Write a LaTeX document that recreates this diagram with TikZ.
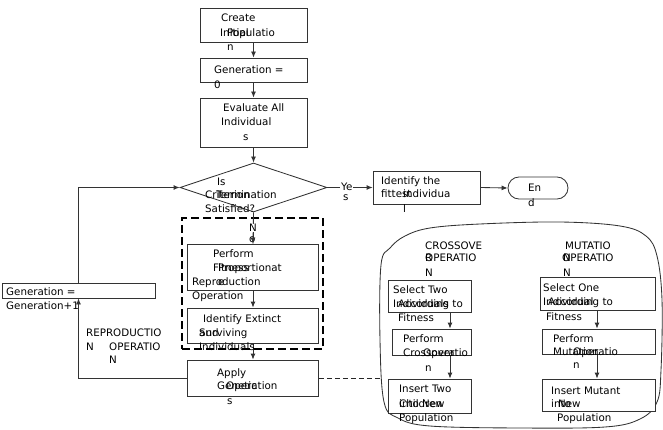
\documentclass[tikz,border=0pt]{standalone}
\usepackage{fontspec}
\setmainfont{DejaVu Sans}
\usetikzlibrary{shapes.geometric,arrows.meta}
\begin{document}
\begin{tikzpicture}[x=1pt,y=-1pt,
  box/.style={draw=black!80, line width=0.85pt, inner sep=0pt, fill=white},
  txt/.style={anchor=base west, inner sep=0pt, font=\fontsize{10.3}{12}\selectfont, text=black},
  txtw/.style={txt, fill=white, inner xsep=1pt},
  arr/.style={draw=black!80, line width=0.85pt, -{Latex[length=6pt,width=5pt]}},
  ln/.style={draw=black!80, line width=0.85pt},
  dashbox/.style={draw=black, line width=1.8pt, dash pattern=on 8pt off 4pt}]
\newcommand\tx[4]{\node[txt] (#1) at (#2,#3+4) {#4};}
\useasboundingbox (0,0) rectangle (663,430);

% ---------- cloud ----------
\draw[ln] plot[smooth cycle, tension=0.6] coordinates {
  (381,265) (390,248) (405,236) (430,228) (480,224) (560,222) (620,226)
  (646,236) (657,256) (662,300) (661,370) (657,402) (640,419) (605,427)
  (520,428) (430,426) (398,418) (384,402) (380,340)};
\coordinate (cl) at (381,378);

% ---------- main flow boxes ----------
\node[box, minimum width=107pt, minimum height=34pt] (b1) at (253.5,25) {};
\node[box, minimum width=107pt, minimum height=24pt] (b2) at (253.5,70) {};
\node[box, minimum width=107pt, minimum height=49pt] (b3) at (253.5,122.5) {};
\node[box, diamond, minimum width=147pt, minimum height=49pt] (dia) at (253.5,187.5) {};
\node[box, minimum width=107pt, minimum height=33pt] (fit) at (426.5,187.5) {};
\node[box, rounded corners=11pt, minimum width=60pt, minimum height=22pt] (fin) at (538,188) {};
\node[dashbox, minimum width=141pt, minimum height=131pt, inner sep=0pt] (dbox) at (252.5,283.5) {};
\node[box, minimum width=131pt, minimum height=46pt] (perf) at (253,267) {};
\node[box, minimum width=131pt, minimum height=35pt] (ext) at (253,325.5) {};
\node[box, minimum width=131pt, minimum height=36pt] (app) at (253,378) {};
\node[box, minimum width=153pt, minimum height=15pt] (gen1) at (78.5,290.5) {};

% ---------- cloud boxes ----------
\node[box, minimum width=83pt, minimum height=32pt] (s2) at (429.5,296) {};
\node[box, minimum width=79pt, minimum height=26pt] (p2) at (431.5,342) {};
\node[box, minimum width=83pt, minimum height=34pt] (i2) at (429.5,396) {};
\node[box, minimum width=115pt, minimum height=33pt] (s1) at (597.5,293.5) {};
\node[box, minimum width=113pt, minimum height=25pt] (p1) at (598.5,341.5) {};
\node[box, minimum width=113pt, minimum height=32pt] (i1) at (598.5,395) {};
\coordinate (cx) at (450,0);
\coordinate (mx) at (597,0);

% ---------- connectors ----------
\draw[arr] (b1.south) -- (b2.north);
\draw[arr] (b2.south) -- (b3.north);
\draw[arr] (b3.south) -- (dia.north);
\draw[arr] (dia.east) -- (fit.west);
\draw[arr] (fit.east) -- (fin.west);
\draw[ln] (dia.south) -- (perf.north);
\draw[arr] (perf.south) -- (ext.north);
\draw[arr] (ext.south) -- (app.north);
\draw[arr] (app.west) -| (gen1.south);
\draw[arr] (gen1.north) |- (dia.west);
\draw[draw=black!85, line width=1pt, dash pattern=on 5pt off 3pt] (app.east) -- (cl);
\draw[arr] (s2.south -| cx) -- (p2.north -| cx);
\draw[arr] (p2.south -| cx) -- (i2.north -| cx);
\draw[arr] (s1.south -| mx) -- (p1.north -| mx);
\draw[arr] (p1.south -| mx) -- (i1.north -| mx);

% ---------- texts ----------
\tx{t1}{221}{18}{Create}
\tx{t2}{220}{33}{Initial}
\tx{t3}{227}{33}{Populatio}
\tx{t4}{227}{47}{n}
\tx{t5}{214}{70}{Generation =}
\tx{t6}{214}{85}{0}
\tx{t7}{223}{108}{Evaluate All}
\tx{t8}{221}{122}{Individual}
\tx{t9}{243}{137}{s}
\tx{t10}{217}{182}{Is}
\tx{t11}{205}{195}{Criterion}
\tx{t12}{216}{195}{Termination}
\tx{t13}{205}{208}{Satisfied?}
\node[txtw] (t14) at (340,191) {Ye};
\tx{t15}{343}{197}{s}
\node[txtw, inner xsep=0.5pt] (t16) at (248.5,232) {N};
\tx{t17}{249}{238}{o}
\draw[arr] (t16.south -| perf.north) -- (perf.north);
\tx{t18}{381}{181}{Identify the}
\tx{t19}{381}{194}{fittest}
\tx{t20}{403}{194}{individua}
\tx{t21}{403}{209}{l}
\tx{t22}{528}{188}{En}
\tx{t23}{528}{203}{d}
\tx{t24}{213}{253}{Perform}
\tx{t25}{213}{267}{Fitness}
\tx{t26}{218}{267}{Proportionat}
\tx{t27}{192}{281}{Reproduction}
\tx{t28}{218}{281}{e}
\tx{t29}{192}{295}{Operation}
\tx{t30}{203}{318}{Identify Extinct}
\tx{t31}{199}{332}{Surviving}
\tx{t32}{199}{332}{and}
\tx{t33}{199}{346}{Individuals}
\tx{t34}{217}{372}{Apply}
\tx{t35}{217}{385}{Genetic}
\tx{t36}{226}{385}{Operation}
\tx{t37}{227}{400}{s}
\tx{t38}{6}{291}{Generation =}
\tx{t39}{6}{305}{Generation+1}
\tx{t40}{86}{332}{REPRODUCTIO}
\tx{t41}{86}{346}{N}
\tx{t42}{109}{346}{OPERATIO}
\tx{t43}{109}{359}{N}
% crossover
\tx{t44}{425}{245}{CROSSOVE}
\tx{t45}{425}{257}{R}
\tx{t46}{425}{257}{OPERATIO}
\tx{t47}{425}{272}{N}
\tx{t48}{393}{289}{Select Two}
\tx{t49}{393}{303}{Individuals}
\tx{t50}{398}{303}{According to}
\tx{t51}{398}{317}{Fitness}
\tx{t52}{403}{338}{Perform}
\tx{t53}{403}{352}{Crossover}
\tx{t54}{423}{352}{Operatio}
\tx{t55}{425}{367}{n}
\tx{t56}{399}{388}{Insert Two}
\tx{t57}{399}{403}{Children}
\tx{t58}{399}{403}{into New}
\tx{t59}{399}{417}{Population}
% mutation
\tx{t60}{565}{245}{MUTATIO}
\tx{t61}{563}{257}{N}
\tx{t62}{562}{257}{OPERATIO}
\tx{t63}{563}{272}{N}
\tx{t64}{543}{287}{Select One}
\tx{t65}{543}{301}{Individual}
\tx{t66}{548}{301}{According to}
\tx{t67}{546}{316}{Fitness}
\tx{t68}{553}{338}{Perform}
\tx{t69}{553}{351}{Mutation}
\tx{t70}{573}{351}{Operatio}
\tx{t71}{573}{364}{n}
\tx{t72}{551}{390}{Insert Mutant}
\tx{t73}{551}{403}{into}
\tx{t74}{558}{403}{New}
\tx{t75}{557}{417}{Population}
\end{tikzpicture}
\end{document}
